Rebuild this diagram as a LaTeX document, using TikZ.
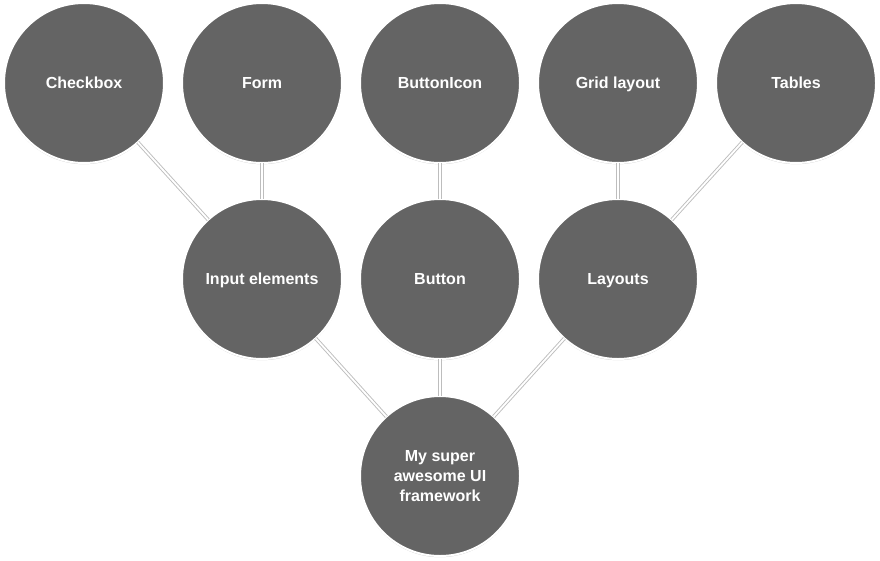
\documentclass[tikz,border=0pt]{standalone}
\usepackage{fontspec}
\setmainfont{Liberation Sans}
\usetikzlibrary{shadows}
\definecolor{nodegray}{HTML}{646464}
\definecolor{linegray}{HTML}{BDBDBD}
\newcommand{\lbl}[1]{\raisebox{0pt}[11.6pt][0pt]{#1}}
\tikzset{
  topic/.style={circle, minimum size=160pt, inner sep=0pt, fill=nodegray, draw=white, line width=2pt,
    text=white, font=\bfseries\fontsize{16pt}{20pt}\selectfont, align=center,
    drop shadow={opacity=0.35, shadow xshift=0pt, shadow yshift=-1.2pt, fill=black!60}},
  link/.style={draw=linegray, line width=0.9pt, double=white, double distance=1.8pt,
    shorten <=-1pt, shorten >=-1pt}
}
\begin{document}
\begin{tikzpicture}[x=1pt,y=-1pt]
\useasboundingbox (0,0) rectangle (880,560);
\path[fill=white] (0,0) rectangle (880,560);
\node[topic] (checkbox) at (84,83) {\lbl{Checkbox}};
\node[topic] (form) at (262,83) {\lbl{Form}};
\node[topic] (buttonicon) at (440,83) {\lbl{ButtonIcon}};
\node[topic] (grid) at (618,83) {\lbl{Grid layout}};
\node[topic] (tables) at (796,83) {\lbl{Tables}};
\node[topic] (input) at (262,279) {\lbl{Input elements}};
\node[topic] (button) at (440,279) {\lbl{Button}};
\node[topic] (layouts) at (618,279) {\lbl{Layouts}};
\node[topic] (main) at (440,476) {My super\\awesome UI\\framework};
\draw[link] (checkbox) -- (input);
\draw[link] (form) -- (input);
\draw[link] (buttonicon) -- (button);
\draw[link] (grid) -- (layouts);
\draw[link] (tables) -- (layouts);
\draw[link] (input) -- (main);
\draw[link] (button) -- (main);
\draw[link] (layouts) -- (main);
\end{tikzpicture}
\end{document}
